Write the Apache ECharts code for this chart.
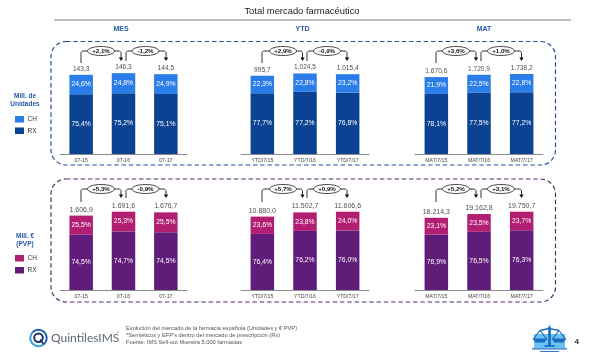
<!DOCTYPE html>
<html><head><meta charset="utf-8">
<style>html,body{margin:0;padding:0;background:#fff}#c{width:600px;height:363px}</style>
<script src="https://cdn.jsdelivr.net/npm/echarts@6/dist/echarts.min.js"></script>
</head><body><div id="c"></div>
<script>
// ---- data ----
const catsMes = ['07-15','07-16','07-17'];
const catsYtd = ['YTD/7/15','YTD/7/16','YTD/7/17'];
const catsMat = ['MAT/7/15','MAT/7/16','MAT/7/17'];
const unitsMesTotal = [143.3,146.3,144.5];
const unitsYtdTotal = [995.7,1024.5,1015.4];
const unitsMatTotal = [1670.6,1720.9,1738.2];
const eurMesTotal = [1606.9,1691.6,1676.7];
const eurYtdTotal = [10880.0,11502.7,11606.6];
const eurMatTotal = [18214.3,19162.8,19750.7];
const unitsMesCH = [24.6,24.8,24.9], unitsMesRX = [75.4,75.2,75.1];
const unitsYtdCH = [22.3,22.8,23.2], unitsYtdRX = [77.7,77.2,76.8];
const unitsMatCH = [21.9,22.5,22.8], unitsMatRX = [78.1,77.5,77.2];
const eurMesCH = [25.5,25.3,25.5], eurMesRX = [74.5,74.7,74.5];
const eurYtdCH = [23.6,23.8,24.0], eurYtdRX = [76.4,76.2,76.0];
const eurMatCH = [23.1,23.5,23.7], eurMatRX = [76.9,76.5,76.3];
const unitsGrowth = [['+2,1%','-1,2%'],['+2,9%','-0,9%'],['+3,6%','+1,0%']];
const eurGrowth = [['+5,3%','-0,9%'],['+5,7%','+0,9%'],['+5,2%','+3,1%']];

// ---- layout / style ----
const COL = {ch1:'#2b7de9',rx1:'#0b4292',ch2:'#b21f72',rx2:'#5f1c78',navy:'#2559a5',ink:'#222'};
const FF = '"Liberation Sans",Arial,sans-serif';
const fmt = v => {
  const [a,b] = v.toFixed(1).split('.');
  return a.replace(/\B(?=(\d{3})+$)/g,'.') + ',' + b;
};
const panels = [
  {cats:catsMes,tot:unitsMesTotal,ch:unitsMesCH,rx:unitsMesRX,l:60,w:127,base:154,max:181,c:[COL.rx1,COL.ch1]},
  {cats:catsYtd,tot:unitsYtdTotal,ch:unitsYtdCH,rx:unitsYtdRX,l:241,w:128,base:154,max:1272,c:[COL.rx1,COL.ch1]},
  {cats:catsMat,tot:unitsMatTotal,ch:unitsMatCH,rx:unitsMatRX,l:415,w:128,base:154,max:2172,c:[COL.rx1,COL.ch1]},
  {cats:catsMes,tot:eurMesTotal,ch:eurMesCH,rx:eurMesRX,l:60,w:127,base:290,max:2160,c:[COL.rx2,COL.ch2]},
  {cats:catsYtd,tot:eurYtdTotal,ch:eurYtdCH,rx:eurYtdRX,l:241,w:128,base:290,max:14823,c:[COL.rx2,COL.ch2]},
  {cats:catsMat,tot:eurMatTotal,ch:eurMatCH,rx:eurMatRX,l:415,w:128,base:290,max:25224,c:[COL.rx2,COL.ch2]}
];
const grid=[],xAxis=[],yAxis=[],series=[];
panels.forEach((p,i)=>{
  grid.push({left:p.l,width:p.w,top:p.base-100,height:100});
  xAxis.push({type:'category',gridIndex:i,data:p.cats,
    axisLine:{lineStyle:{color:'#8c8c8c',width:1}},axisTick:{show:false},
    axisLabel:{interval:0,fontSize:5.2,color:'#444',margin:4,fontFamily:FF}});
  yAxis.push({type:'value',gridIndex:i,min:0,max:p.max,show:false,splitLine:{show:false}});
  const lab = {show:true,position:'inside',color:'#fff',fontSize:6.8,fontFamily:FF};
  series.push({type:'bar',name:'RX',xAxisIndex:i,yAxisIndex:i,stack:'s'+i,barWidth:23.5,
    itemStyle:{color:p.c[0]},
    data:p.tot.map((t,k)=>t*p.rx[k]/100),
    label:{...lab,formatter:o=>p.rx[o.dataIndex].toFixed(1).replace('.',',')+'%'}});
  series.push({type:'bar',name:'CH',xAxisIndex:i,yAxisIndex:i,stack:'s'+i,barWidth:23.5,
    itemStyle:{color:p.c[1]},
    data:p.tot.map((t,k)=>t*p.ch[k]/100),
    label:{...lab,formatter:o=>p.ch[o.dataIndex].toFixed(1).replace('.',',')+'%'}});
  series.push({type:'scatter',xAxisIndex:i,yAxisIndex:i,symbolSize:1,
    itemStyle:{color:'transparent'},data:p.tot,z:5,
    label:{show:true,position:'top',distance:2,color:COL.ink,fontSize:i<3?6.6:7,fontFamily:FF,
      formatter:o=>fmt(o.value)}});
});

// ---- annotation graphics ----
const g=[];
const txt=(x,y,text,o={})=>g.push({type:'text',x,y,silent:true,z:20,style:{text,fill:o.c||COL.ink,
  font:(o.b?'bold ':'')+(o.s||7)+'px '+(o.f||FF),align:o.a||'left',verticalAlign:'middle'}});
const rect=(x,y,w,h,fill)=>g.push({type:'rect',z:20,silent:true,shape:{x,y,width:w,height:h},style:{fill}});
const poly=(pts,o)=>g.push({type:o.fill?'polygon':'polyline',z:o.z||20,silent:true,shape:{points:pts},
  style:o.fill?{fill:o.fill}:{stroke:o.stroke,lineWidth:o.lw||1,fill:'none'}});

txt(302,11.5,'Total mercado farmacéutico',{s:9.4,a:'center',c:'#222'});
poly([[54,20],[571,20]],{stroke:'#7f7f7f',lw:1});
[['MES',121],['YTD',302.5],['MAT',484]].forEach(([t,x])=>txt(x,29.5,t,{s:7,b:1,a:'center',c:COL.navy}));

[[41.5,165,'#24509f'],[179,302,'#5a2d6b']].forEach(([y0,y1,c])=>g.push({type:'rect',z:1,silent:true,
  shape:{x:51,y:y0,width:504.5,height:y1-y0,r:15},
  style:{fill:'none',stroke:c,lineWidth:1.2,lineDash:[4.5,2.8]}}));

txt(25,96,'Mill. de',{s:6.5,b:1,a:'center',c:COL.navy});
txt(25,104,'Unidades',{s:6.5,b:1,a:'center',c:COL.navy});
txt(25,236,'Mill. €',{s:6.5,b:1,a:'center',c:COL.navy});
txt(25,244.5,'(PVP)',{s:6.5,b:1,a:'center',c:COL.navy});
[[116,COL.ch1,'CH'],[127.5,COL.rx1,'RX'],[255,COL.ch2,'CH'],[267,COL.rx2,'RX']].forEach(([y,c,t])=>{
  rect(15,y,9,6.5,c); txt(27.5,y+3.3,t,{s:6.5,c:'#333'});
});

const brackets=[
 [81,121,101,126,166,145.5],[262,302.5,283,307,347,327],[436,476,456,481,521.5,501]
];
const arrowTo=(x0,x1,yTop,y0,y1)=>{
  poly([[x0,y0],[x0,yTop+1.5],[x0+1.5,yTop],[x1-1.5,yTop],[x1,yTop+1.5],[x1,y1-3]],{stroke:'#333',lw:1,z:15});
  poly([[x1-2.2,y1-3.5],[x1+2.2,y1-3.5],[x1,y1]],{fill:'#111',z:15});
};
const bubble=(x,y,t)=>{
  g.push({type:'ellipse',z:16,silent:true,shape:{cx:x,cy:y,rx:13.5,ry:4.5},style:{fill:'#fff',stroke:'#333',lineWidth:0.9}});
  txt(x,y+0.3,t,{s:6.2,b:1,a:'center',c:'#111'});
};
[[51,63,61,unitsGrowth],[189,202,198,eurGrowth]].forEach(([yTop,y0,y1,grow])=>{
  brackets.forEach((b,i)=>{
    arrowTo(b[0],b[1],yTop,y0,y1);
    arrowTo(b[3],b[4],yTop,y1,y1);
    bubble(b[2],yTop,grow[i][0]);
    bubble(b[5],yTop,grow[i][1]);
  });
});

txt(126,328,'Evolución del mercado de la farmacia española (Unidades y € PVP)',{s:5.7,c:'#555'});
txt(126,335,"*Semiéticos y EFP's dentro del mercado de prescripción (Rx)",{s:5.7,c:'#555'});
txt(126,342,'Fuente: IMS Sell-out Muestra 5.000 farmacias',{s:5.7,c:'#555'});

// logo
const LX=38.5,LY=338;
g.push({type:'arc',z:20,silent:true,shape:{cx:LX,cy:LY,r:8.2,startAngle:0.9,endAngle:3.9},style:{stroke:'#2aa6d8',lineWidth:2,fill:'none'}});
g.push({type:'arc',z:20,silent:true,shape:{cx:LX,cy:LY,r:8.2,startAngle:3.9,endAngle:7.2},style:{stroke:'#1c5fae',lineWidth:2,fill:'none'}});
g.push({type:'circle',z:20,silent:true,shape:{cx:LX,cy:LY-0.3,r:4.3},style:{fill:'#fff',stroke:'#1b2f73',lineWidth:2}});
poly([[LX+1.5,LY+1.5],[LX+5,LY+6]],{stroke:'#1b2f73',lw:1.6});
txt(51,338,'QuintilesIMS',{s:12,c:'#5d6770',f:'Lato,sans-serif'});
txt(115.5,333,'™',{s:3.5,c:'#5d6770'});

// scales icon
const B='#1a6cc0',LB='#6cc1f2';
rect(534,334,31,14,LB);
rect(532,348.2,35,1.2,B);
rect(540,351,19,0.9,B);
poly([[548,327],[549.5,324],[551,327]],{fill:LB});
rect(548.2,327,2.6,19,B);
poly([[540,330.5],[549,328.5]],{stroke:B,lw:1.3});
poly([[559,330.5],[549,328.5]],{stroke:B,lw:1.3});
const pan=(cx)=>{
  poly([[cx,330.5],[cx-6.5,339],[cx+6.5,339],[cx,330.5]],{stroke:B,lw:1.2});
  poly([[cx-7,339],[cx+7,339],[cx+4.5,342.5],[cx-4.5,342.5]],{fill:B});
};
pan(540);pan(559);
rect(544.5,345,10,1.8,B);
txt(574.5,342,'4',{s:8,b:1,c:'#333'});

echarts.init(document.getElementById('c'),null,{renderer:'canvas'}).setOption({
  animation:false,backgroundColor:'#fff',grid,xAxis,yAxis,series,graphic:{elements:g}
});
</script></body></html>
